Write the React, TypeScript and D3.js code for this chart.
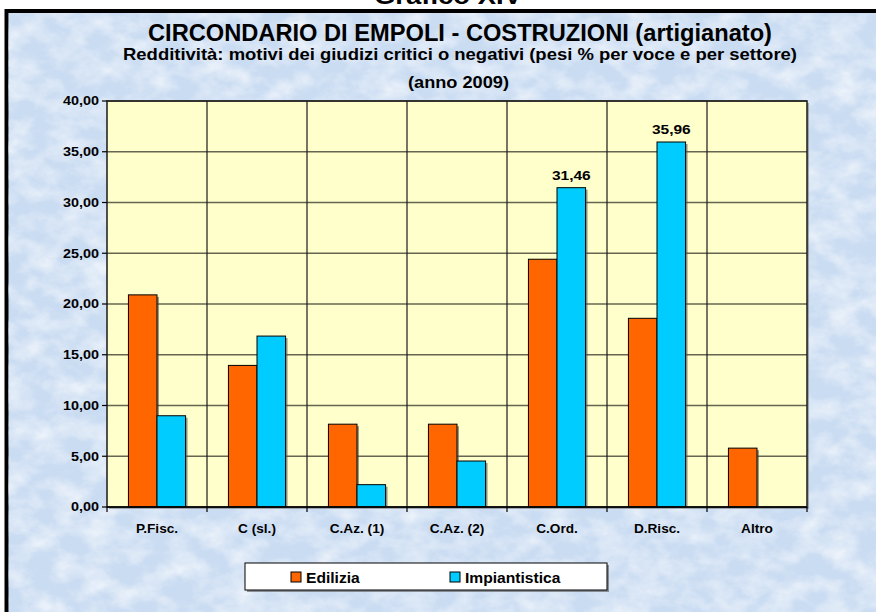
import React from 'react';
import * as d3 from 'd3';

const categories = ['P.Fisc.', 'C (sl.)', 'C.Az. (1)', 'C.Az. (2)', 'C.Ord.', 'D.Risc.', 'Altro'];
const seriesNames = ['Edilizia', 'Impiantistica'];
const edilizia = [20.9, 13.95, 8.16, 8.16, 24.41, 18.59, 5.8];
const impiantistica = [8.99, 16.84, 2.2, 4.53, 31.46, 35.96, 0];
const yTicks = [0, 5, 10, 15, 20, 25, 30, 35, 40];
const labelled = ['C.Ord.', 'D.Risc.'];

const colors = ['#FF6600', '#00CCFF'];
const font = "Arial, 'Liberation Sans', sans-serif";

const W = 876;
const H = 612;
const plot = { left: 107, right: 807, top: 101, bottom: 507 };

const fmt = (v: number) => v.toFixed(2).replace('.', ',');

// bold text, slightly widened like the original export
const T: React.FC<{
    x: number; y: number; size: number; sx?: number;
    anchor?: 'start' | 'middle' | 'end'; children: React.ReactNode;
}> = ({ x, y, size, sx = 1, anchor = 'start', children }) => (
    <text transform={`translate(${x},${y}) scale(${sx},1)`} textAnchor={anchor}
        fontFamily={font} fontWeight="bold" fontSize={size} fill="#000">
        {children}
    </text>
);

const App: React.FC = () => {
    const x0 = d3.scaleBand<string>()
        .domain(categories)
        .range([plot.left, plot.right])
        .padding(0);

    const x1 = d3.scaleBand<string>()
        .domain(seriesNames)
        .range([0, x0.bandwidth()])
        .paddingInner(0)
        .paddingOuter(0.75);

    const y = d3.scaleLinear()
        .domain([0, 40])
        .range([plot.bottom, plot.top]);

    const values = [edilizia, impiantistica];

    const bars = categories.flatMap((c, i) =>
        seriesNames.map((s, j) => ({ cat: c, series: s, value: values[j][i], color: colors[j] }))
    ).filter(d => d.value > 0);

    return (
        <svg width={W} height={H} style={{ position: 'absolute', left: 0, top: 0 }}>
            <defs>
                <filter id="paper" x="0" y="0" width="100%" height="100%">
                    <feTurbulence type="fractalNoise" baseFrequency="0.035 0.05" numOctaves={4} seed={7} result="n" />
                    <feColorMatrix in="n" type="matrix"
                        values="0 0 0 0 1  0 0 0 0 1  0 0 0 0 1  1.6 0 0 0 -0.55" />
                </filter>
                <filter id="shadow" x="-10%" y="-10%" width="130%" height="130%">
                    <feGaussianBlur stdDeviation="0.6" />
                </filter>
            </defs>

            <rect x={0} y={0} width={W} height={H} fill="#ffffff" />

            {/* caption above the frame, mostly out of view */}
            <text x={448} y={4} textAnchor="middle" fontFamily={font} fontWeight="bold" fontSize={24}
                textLength={148} lengthAdjust="spacingAndGlyphs" fill="#000">
                Grafico XIV
            </text>

            {/* chart frame */}
            <rect x={6.5} y={11} width={W + 10} height={H + 10} fill="#cadcf2" stroke="#000" strokeWidth={4} />
            <rect x={8.5} y={13} width={W} height={H} fill="#fff" filter="url(#paper)" opacity={0.75} />

            {/* titles */}
            <text x={460} y={41} textAnchor="middle" fontFamily={font} fontWeight="bold" fontSize={23}
                textLength={624} lengthAdjust="spacingAndGlyphs" fill="#000">
                CIRCONDARIO DI EMPOLI - COSTRUZIONI (artigianato)
            </text>
            <text x={460} y={60} textAnchor="middle" fontFamily={font} fontWeight="bold" fontSize={16.5}
                textLength={674} lengthAdjust="spacingAndGlyphs" fill="#000">
                Redditività: motivi dei giudizi critici o negativi (pesi % per voce e per settore)
            </text>
            <text x={458.5} y={88} textAnchor="middle" fontFamily={font} fontWeight="bold" fontSize={16}
                textLength={101} lengthAdjust="spacingAndGlyphs" fill="#000">
                (anno 2009)
            </text>

            {/* plot area */}
            <rect x={plot.left + 2} y={plot.top + 2} width={plot.right - plot.left} height={plot.bottom - plot.top}
                fill="#6a6a6a" opacity={0.5} filter="url(#shadow)" />
            <rect x={plot.left} y={plot.top} width={plot.right - plot.left} height={plot.bottom - plot.top} fill="#FFFFCC" />

            {yTicks.filter(t => t > 0).map(t => (
                <line key={`h${t}`} x1={plot.left} x2={plot.right} y1={y(t)} y2={y(t)}
                    stroke="#4a4a3c" strokeWidth={1.6} strokeOpacity={0.85} />
            ))}
            {categories.slice(1).map(c => (
                <line key={`v${c}`} x1={x0(c)!} x2={x0(c)!} y1={plot.top} y2={plot.bottom}
                    stroke="#1a1a1a" strokeWidth={1.2} />
            ))}

            {/* bars */}
            {bars.map(d => {
                const bx = x0(d.cat)! + x1(d.series)!;
                const by = y(d.value);
                const bh = plot.bottom - by;
                return (
                    <g key={`${d.cat}-${d.series}`}>
                        <rect x={bx + 2} y={by + 2} width={x1.bandwidth()} height={bh - 2}
                            fill="#555" opacity={0.6} />
                        <rect x={bx} y={by} width={x1.bandwidth()} height={bh}
                            fill={d.color} stroke="#000" strokeWidth={1} />
                    </g>
                );
            })}

            {/* data labels */}
            {categories.filter(c => labelled.includes(c)).map(c => {
                const v = impiantistica[categories.indexOf(c)];
                return (
                    <T key={`l${c}`} x={x0(c)! + x1('Impiantistica')! + x1.bandwidth() / 2} y={y(v) - 8}
                        size={13.5} sx={1.15} anchor="middle">
                        {fmt(v)}
                    </T>
                );
            })}

            <rect x={plot.left} y={plot.top} width={plot.right - plot.left} height={plot.bottom - plot.top}
                fill="none" stroke="#1a1a1a" strokeWidth={1.5} />

            {/* y axis */}
            {yTicks.map(t => (
                <g key={`y${t}`}>
                    <line x1={plot.left - 5} x2={plot.left} y1={y(t)} y2={y(t)} stroke="#000" strokeWidth={1.2} />
                    <T x={99} y={y(t) + 4.3} size={12} sx={1.2} anchor="end">{fmt(t)}</T>
                </g>
            ))}

            {/* x axis */}
            <line x1={plot.left} x2={plot.right} y1={plot.bottom} y2={plot.bottom} stroke="#000" strokeWidth={1.5} />
            {[...categories.map(c => x0(c)!), plot.right].map((px, i) => (
                <line key={`xt${i}`} x1={px} x2={px} y1={plot.bottom} y2={plot.bottom + 5} stroke="#000" strokeWidth={1.2} />
            ))}
            {categories.map(c => (
                <T key={`xl${c}`} x={x0(c)! + x0.bandwidth() / 2} y={533} size={13} sx={1.05} anchor="middle">
                    {c}
                </T>
            ))}

            {/* legend */}
            <rect x={247} y={565} width={362} height={27} fill="#555" opacity={0.6} />
            <rect x={245} y={563} width={362} height={27} fill="#fff" stroke="#000" strokeWidth={1} />
            {seriesNames.map((s, j) => {
                const lx = j === 0 ? 291 : 450;
                return (
                    <g key={`lg${s}`}>
                        <rect x={lx} y={572} width={10} height={10} fill={colors[j]} stroke="#000" strokeWidth={1} />
                        <T x={lx + 15} y={583} size={15} sx={1.04}>{s}</T>
                    </g>
                );
            })}
        </svg>
    );
};

export default App;
